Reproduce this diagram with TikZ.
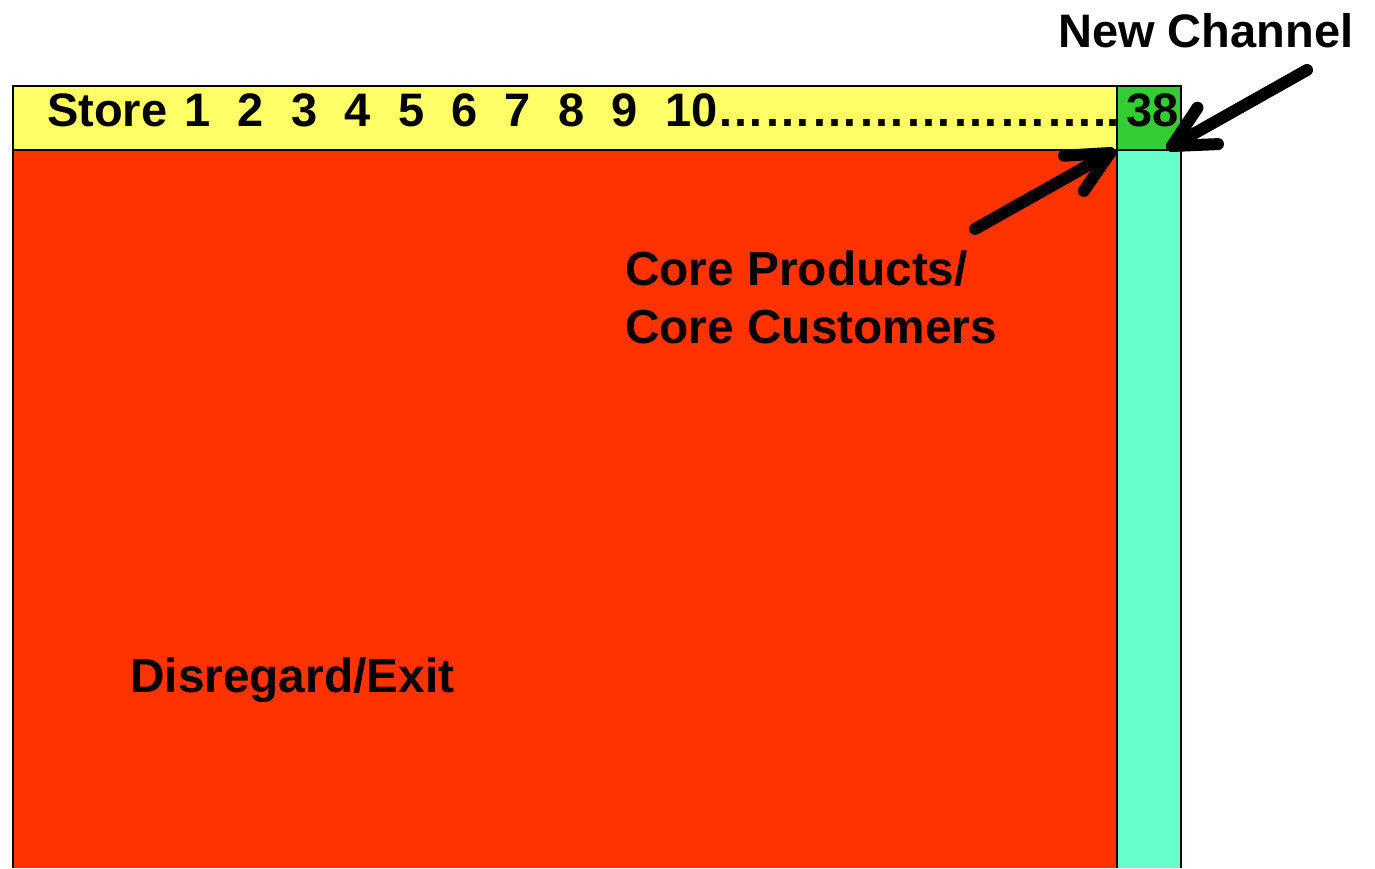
\documentclass[tikz,border=0pt]{standalone}
\usepackage{fontspec}
\setmainfont{Liberation Sans}
\usetikzlibrary{calc}
\definecolor{storeyellow}{HTML}{FFFF66}
\definecolor{newgreen}{HTML}{33CC33}
\definecolor{exitred}{HTML}{FF3300}
\definecolor{coreaqua}{HTML}{66FFCC}
\tikzset{
  cell/.style={draw=black, line width=2pt},
  label/.style={anchor=base west, inner sep=0pt, font=\fontsize{47}{58}\selectfont\bfseries, align=left},
  biglabel/.style={label, font=\fontsize{47.8}{58}\selectfont\bfseries},
  pointer/.style={line width=12pt, line cap=round, line join=round},
}
% gap between store numbers
\newcommand{\sg}{\hspace{27.3pt}}
\begin{document}
\begin{tikzpicture}[x=1pt, y=-1pt]
\useasboundingbox (0,0) rectangle (1375,868);
% grid of cells
\fill[exitred] (13,150) rectangle (1117,868);
\fill[coreaqua] (1117,150) rectangle (1181,868);
\draw[line width=2pt] (13,868) -- (13,150) -- (1117,150) -- (1117,868);
\draw[line width=2pt] (1181,150) -- (1181,868);
\draw[cell, fill=storeyellow] (13,86) rectangle (1117,150);
\draw[cell, fill=newgreen] (1117,86) rectangle (1181,150);
% texts
\node[label] (stores) at (47,126) {Store\hspace{17pt}1\sg 2\sg 3\sg 4\sg 5\sg 6\sg 7\sg 8\sg 9\sg 10……………………..\hspace{7pt}38};
\node[label] (newch) at (1058,47) {New Channel};
\node[biglabel] (core) at (625,343) {Core Products/\\Core Customers};
\node[biglabel] (exit) at (130,692) {Disregard/Exit};
% pointer to the new channel
\coordinate (a1s) at (1307,70);
\coordinate (a1t) at (1172,146);
\draw[pointer] (a1s) -- (a1t);
\draw[pointer] ($(a1t)!46pt!27:(a1s)$) -- (a1t) -- ($(a1t)!46pt!-27:(a1s)$);
% pointer to the core corner
\coordinate (a2s) at (975,229);
\coordinate (a2t) at (1110,153);
\draw[pointer] (a2s) -- (a2t);
\draw[pointer] ($(a2t)!46pt!26:(a2s)$) -- (a2t) -- ($(a2t)!46pt!-26:(a2s)$);
\end{tikzpicture}
\end{document}
